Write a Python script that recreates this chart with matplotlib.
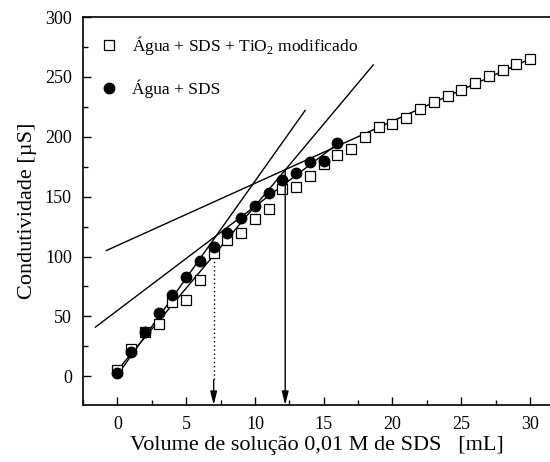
import numpy as np
import matplotlib
matplotlib.use("Agg")
import matplotlib.pyplot as plt
from matplotlib.ticker import MultipleLocator

plt.rcParams['font.family'] = ['Liberation Serif', 'DejaVu Serif']
plt.rcParams['mathtext.fontset'] = 'custom'
plt.rcParams['mathtext.rm'] = 'Liberation Serif'

# Água + SDS
vol_sds = [0, 1, 2, 3, 4, 5, 6, 7, 8, 9, 10, 11, 12, 13, 14, 15, 16]
cond_sds = [2.5, 20, 37, 53, 68, 83, 96, 108, 120, 132, 142, 153, 164, 170, 179, 180, 195]

# Água + SDS + TiO2 modificado
vol_tio2 = list(range(31))
cond_tio2 = [5, 22.5, 37, 44, 62, 64, 80, 103, 114, 120, 131, 139.5, 156, 158, 167,
             177, 184.5, 190, 200, 208, 211, 216, 223, 229, 234, 239, 245, 251, 256, 261, 265]

# retas de ajuste (extremos x, y)
fit_sds_pre_x, fit_sds_pre_y = [0, 13.65], [1, 222]
fit_sds_pos_x, fit_sds_pos_y = [-1.6, 16], [41, 194]
fit_tio2_pre_x, fit_tio2_pre_y = [0, 18.6], [5, 260]
fit_tio2_pos_x, fit_tio2_pos_y = [-0.8, 30], [105, 265]

# CMC
cmc_sds = (7.0, 103)
cmc_tio2 = (12.2, 172)

fig = plt.figure(figsize=(5.5, 4.62), dpi=100)
ax = fig.add_axes([83 / 550, 57 / 462, 467 / 550, 388 / 462])

for fx, fy in [(fit_sds_pre_x, fit_sds_pre_y), (fit_sds_pos_x, fit_sds_pos_y),
               (fit_tio2_pre_x, fit_tio2_pre_y), (fit_tio2_pos_x, fit_tio2_pos_y)]:
    ax.plot(fx, fy, color='black', lw=1.0, zorder=2)

ax.plot(vol_tio2, cond_tio2, linestyle='none', marker='s', markersize=6.5,
        markerfacecolor='white', markeredgecolor='black', markeredgewidth=0.9,
        label='Água + SDS + TiO$_2$ modificado', zorder=3)
ax.plot(vol_sds, cond_sds, linestyle='none', marker='o', markersize=7.5,
        color='black', label='Água + SDS', zorder=4)

ymin = -24
# seta pontilhada (SDS)
ax.plot([cmc_sds[0], cmc_sds[0]], [cmc_sds[1], -3], color='black', lw=1.0, linestyle=(0, (1, 2)))
ax.annotate('', xy=(cmc_sds[0], ymin), xytext=(cmc_sds[0], -3),
            arrowprops=dict(arrowstyle='-|>,head_length=0.8,head_width=0.2',
                            color='black', lw=1.0, shrinkA=0, shrinkB=0))
# seta contínua (TiO2)
ax.annotate('', xy=(cmc_tio2[0], ymin), xytext=cmc_tio2,
            arrowprops=dict(arrowstyle='-|>,head_length=0.8,head_width=0.2',
                            color='black', lw=1.0, shrinkA=0, shrinkB=0))

ax.set_xlim(-2.5, 31.45)
ax.set_ylim(ymin, 300)
ax.xaxis.set_major_locator(MultipleLocator(5))
ax.xaxis.set_minor_locator(MultipleLocator(2.5))
ax.yaxis.set_major_locator(MultipleLocator(50))
ax.yaxis.set_minor_locator(MultipleLocator(25))
ax.tick_params(which='both', direction='in', labelsize=13, pad=8)
ax.tick_params(which='major', length=6, width=1)
ax.tick_params(which='minor', length=3.5, width=1)
ax.tick_params(top=False, right=False)
ax.spines['right'].set_visible(False)
for s in ['left', 'bottom', 'top']:
    ax.spines[s].set_linewidth(1.2)

ax.set_xlabel('Volume de solução 0,01 M de SDS   [mL]', fontsize=16, labelpad=2)
ax.set_ylabel('Condutividade [µS]', fontsize=16, labelpad=6)

ax.legend(loc='upper left', frameon=False, fontsize=12.5, handlelength=1.0,
          handletextpad=0.8, labelspacing=1.3, borderaxespad=0.6, numpoints=1)

fig.savefig('out.png', dpi=100)
